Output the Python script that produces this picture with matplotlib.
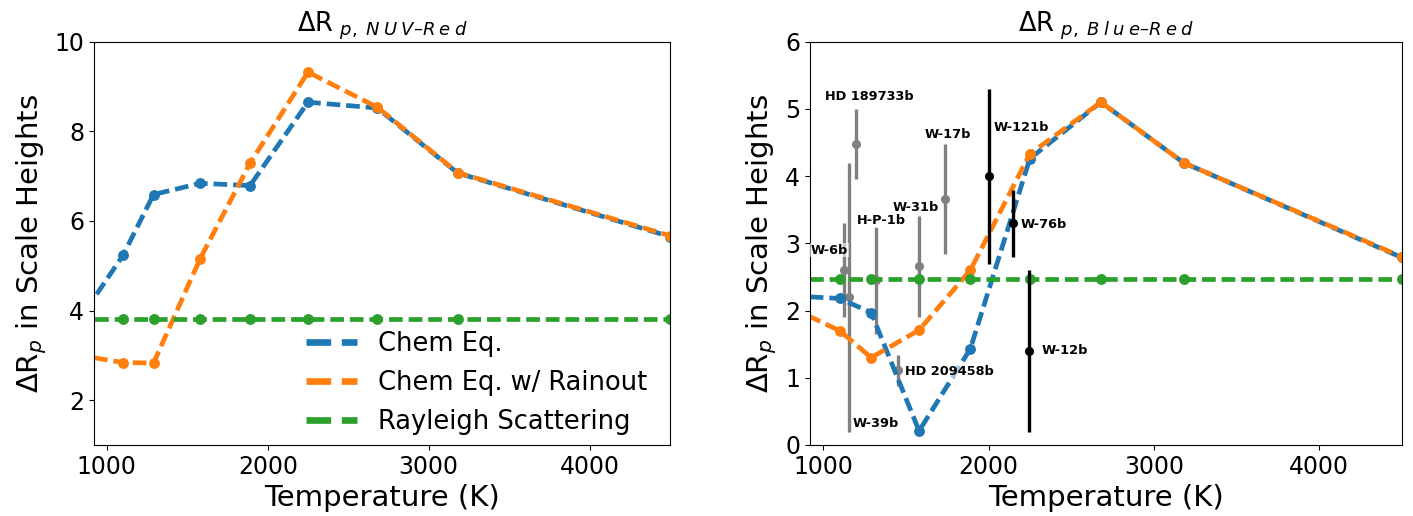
import matplotlib
matplotlib.use("Agg")
import matplotlib.pyplot as plt
from matplotlib.lines import Line2D

# Model grid temperatures (K); the first point lies just below the plotted range
temperature = [800, 1100, 1290, 1580, 1890, 2250, 2680, 3180, 4500]

# Delta R_p (NUV - Red) in scale heights
nuv_chem_eq = [3.64, 5.23, 6.59, 6.84, 6.79, 8.65, 8.52, 7.07, 5.65]
nuv_rainout = [3.02, 2.84, 2.83, 5.16, 7.29, 9.32, 8.54, 7.08, 5.67]
nuv_rayleigh = [3.82] * len(temperature)

# Delta R_p (Blue - Red) in scale heights
br_chem_eq = [2.22, 2.18, 1.97, 0.21, 1.43, 4.26, 5.10, 4.20, 2.79]
br_rainout = [2.05, 1.70, 1.30, 1.71, 2.60, 4.33, 5.10, 4.20, 2.80]
br_rayleigh = [2.47] * len(temperature)

# Observed planets
planet_names = ['HD 189733b', 'W-6b', 'W-39b', 'H-P-1b', 'W-31b',
                'HD 209458b', 'W-17b', 'W-121b', 'W-76b', 'W-12b']
planet_temp = [1201, 1124, 1155, 1321, 1582, 1452, 1739, 2000, 2149, 2245]
planet_dr = [4.48, 2.60, 2.20, 2.45, 2.66, 1.11, 3.66, 4.00, 3.30, 1.40]
planet_err = [0.52, 0.70, 2.00, 0.80, 0.75, 0.23, 0.82, 1.30, 0.50, 1.20]
planet_color = ['gray'] * 7 + ['black'] * 3

series_labels = ['Chem Eq.', 'Chem Eq. w/ Rainout', 'Rayleigh Scattering']
colors = ['#1f77b4', '#ff7f0e', '#2ca02c']

# Where each planet name sits (data coords of the text's left edge)
label_pos = {
    'HD 189733b': (1010, 5.19), 'W-6b': (926, 2.90), 'W-39b': (1177, 0.32),
    'H-P-1b': (1205, 3.34), 'W-31b': (1422, 3.54), 'HD 209458b': (1496, 1.10),
    'W-17b': (1616, 4.62), 'W-121b': (2028, 4.72), 'W-76b': (2195, 3.28),
    'W-12b': (2319, 1.40),
}

W, H = 1413, 516
fig = plt.figure(figsize=(W / 100, H / 100), dpi=100)


def px_axes(x0, x1, y_top, y_bot):
    return fig.add_axes([x0 / W, (H - y_bot) / H, (x1 - x0) / W, (y_bot - y_top) / H])


ax1 = px_axes(94, 670, 41.7, 445)
ax2 = px_axes(810, 1401.7, 41.7, 445)

LW = 3.4
DASH = (2.9, 1.25)


def draw_models(ax, series, z):
    for vals, c in zip(series, colors):
        ax.plot(temperature, vals, ls='--', dashes=DASH, lw=LW, color=c,
                marker='o', ms=6.8, zorder=z)


def spaced_word(word, gap=r'\hspace{0.24}'):
    return gap.join(word)


def spaced_title(ax, band_a, band_b):
    # letters of each band name set slightly apart, the dash kept tight
    sub = (r'\hspace{0.4}p,' + r'\hspace{0.3}' + spaced_word(band_a)
           + '–' + spaced_word(band_b))
    ax.set_title(r'$\Delta$R$_{' + sub + '}$', fontsize=18.5)


# Left panel: NUV - Red
draw_models(ax1, [nuv_chem_eq, nuv_rainout, nuv_rayleigh], 2)
ax1.set_ylim(1, 10)
ax1.set_yticks([2, 4, 6, 8, 10])
spaced_title(ax1, 'NUV', 'Red')
handles = [Line2D([], [], color=c, ls='--', lw=4.8) for c in colors]
ax1.legend(handles, series_labels, loc='lower right', frameon=False,
           fontsize=18.5, handlelength=2, bbox_to_anchor=(1.0, -0.032))

# Right panel: Blue - Red with observations
for name, t, v, e, c in zip(planet_names, planet_temp, planet_dr, planet_err, planet_color):
    z = 1 if c == 'gray' else 3
    ax2.errorbar(t, v, yerr=e, fmt='o', color=c, ms=5.5, elinewidth=2.4,
                 capsize=0, zorder=z)
    tx, ty = label_pos[name]
    ax2.text(tx, ty, name, fontsize=9.3, fontweight='bold', ha='left', va='center',
             zorder=5, bbox=dict(facecolor='white', alpha=0.6, edgecolor='none', pad=0.5))
draw_models(ax2, [br_chem_eq, br_rainout, br_rayleigh], 2)
ax2.set_ylim(0, 6)
ax2.set_yticks(range(0, 7))
spaced_title(ax2, 'Blue', 'Red')

for ax in (ax1, ax2):
    ax.set_xlim(920, 4500)
    ax.set_xticks([1000, 2000, 3000, 4000])
    ax.tick_params(labelsize=17)
    ax.set_xlabel('Temperature (K)', fontsize=21)
    ax.set_ylabel(r'$\Delta$R$_p$ in Scale Heights', fontsize=21)

fig.savefig('out.png', dpi=100)
